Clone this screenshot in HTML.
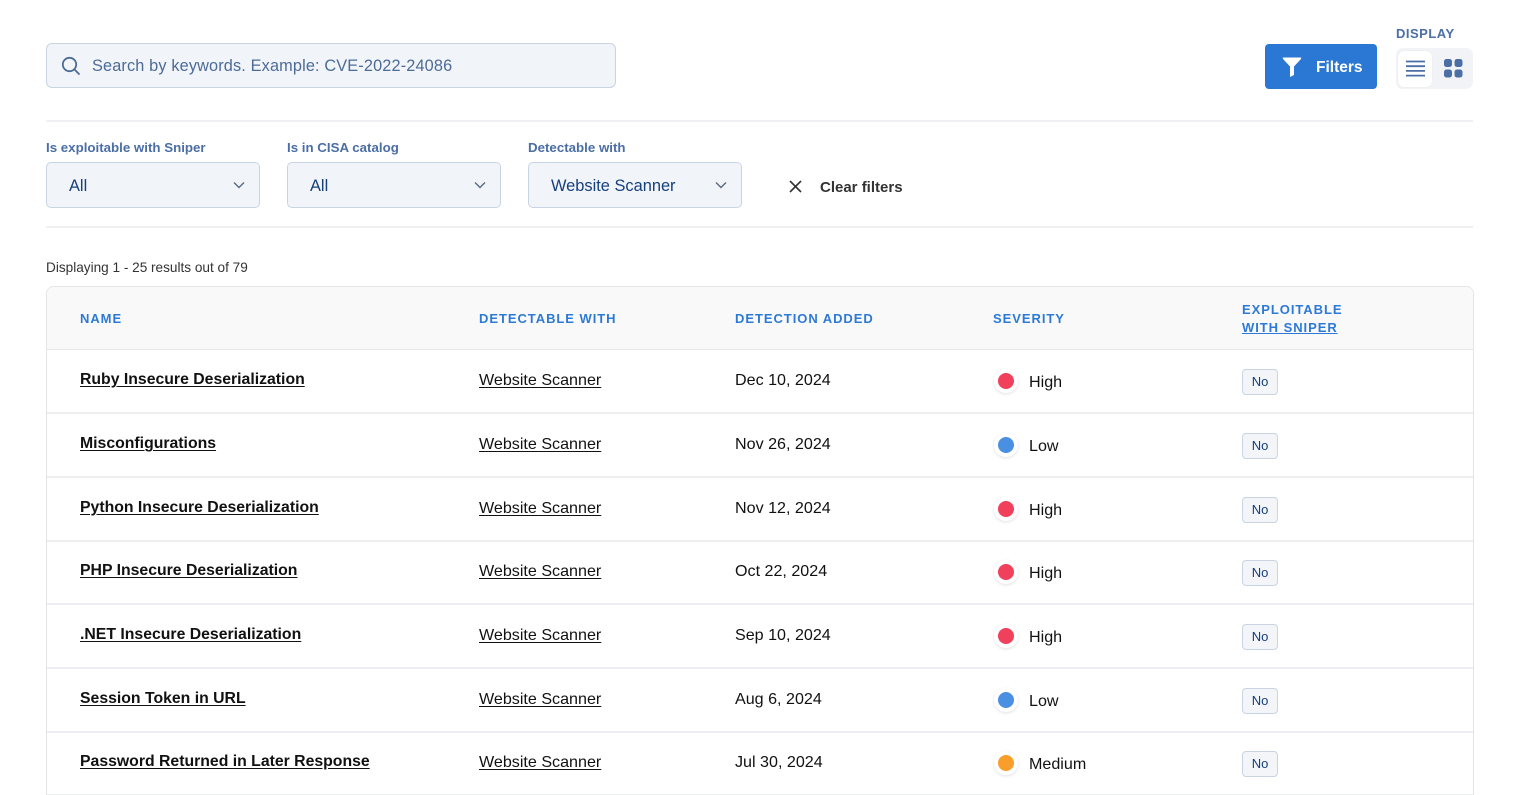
<!DOCTYPE html>
<html><head><meta charset="utf-8">
<style>
*{box-sizing:border-box;margin:0;padding:0}
html{width:1536px;height:795px;overflow:hidden}
body{width:1536px;height:795px;overflow:hidden;background:#fff;font-family:"Liberation Sans",Arial,sans-serif;position:relative}
.abs{position:absolute}
.search{left:46px;top:43px;width:570px;height:45px;background:#f1f4f8;border:1px solid #c9d4e3;border-radius:6px}
.search span{position:absolute;left:45px;top:13px;font-size:16.3px;color:#4d6b97;letter-spacing:0.15px}
.hr{left:46px;width:1427px;height:2px;background:#eef0f3}
.lbl{font-size:13.3px;color:#4a6ea5;font-weight:bold;top:140px}
.sel{top:162px;width:214px;height:46px;background:#f1f4f8;border:1px solid #c9d4e3;border-radius:5px}
.sel span{position:absolute;left:22px;top:14px;font-size:16.4px;color:#163f7c}
.sel svg{position:absolute;right:14px;top:18px}
.btn{left:1265px;top:44px;width:112px;height:45px;background:#2b77d4;border-radius:4px}
.btn span{position:absolute;left:51px;top:14px;color:#fff;font-size:15.5px;font-weight:bold}
.disp{left:1396px;top:26px;font-size:13px;color:#4a6ea5;font-weight:bold;letter-spacing:0.5px}
.tog{left:1396px;top:48px;width:77px;height:41px;background:#f1f3f6;border-radius:7px}
.tog .on{position:absolute;left:2px;top:3px;width:34px;height:36px;background:#fff;border-radius:6px;box-shadow:0 0 1px rgba(0,0,0,0.1)}
.count{left:46px;top:259px;font-size:13.6px;color:#333}
.table{left:46px;top:286px;width:1428px;height:512px;border:1px solid #e3e5e8;border-radius:8px 8px 0 0;overflow:hidden}
.thead{position:absolute;left:0;top:0;width:100%;height:63px;background:#f9f9f9;border-bottom:1px solid #e3e5e8}
.th{position:absolute;font-size:13px;font-weight:bold;color:#2d7ad6;letter-spacing:0.95px}
.row{position:absolute;left:0;width:100%;height:64px;border-bottom:2px solid #eceef1}
.name{position:absolute;left:33px;top:21px;font-size:15.8px;font-weight:bold;color:#111;text-decoration:underline;text-underline-offset:2px}
.det{position:absolute;left:432px;top:21px;font-size:16.1px;color:#111;text-decoration:underline;text-underline-offset:2px}
.date{position:absolute;left:688px;top:21px;font-size:16.1px;color:#111}
.dotw{position:absolute;left:947px;top:19px;width:24px;height:24px;border-radius:50%;background:#fff;box-shadow:0 1px 3px rgba(0,0,0,0.12)}
.dotw i{position:absolute;left:4px;top:4px;width:16px;height:16px;border-radius:50%}
.sev{position:absolute;left:982px;top:23px;font-size:16.1px;color:#111}
.no{position:absolute;left:1195px;top:19px;width:36px;height:26px;background:#f3f5f8;border:1px solid #c9d4e3;border-radius:4px;font-size:13px;color:#163f7c;text-align:center;line-height:24px}
</style></head><body>

<div class="abs search">
<svg class="abs" style="left:14px;top:12px" width="20" height="20" viewBox="0 0 20 20"><circle cx="8.5" cy="8.5" r="6.7" fill="none" stroke="#4d6b97" stroke-width="1.8"/><line x1="13.4" y1="13.4" x2="18" y2="18" stroke="#4d6b97" stroke-width="1.8" stroke-linecap="round"/></svg>
<span>Search by keywords. Example: CVE-2022-24086</span>
</div>

<div class="abs btn">
<svg class="abs" style="left:17px;top:12px" width="20" height="22" viewBox="0 0 20 22"><path d="M1 1.5 H19 Q19.5 1.5 19 3 L12 10.5 V19 L8 21 V10.5 L1 3 Q0.5 1.5 1 1.5Z" fill="#fff"/></svg>
<span style="top:15px">Filters</span>
</div>

<div class="abs disp">DISPLAY</div>
<div class="abs tog">
<div class="on"></div>
<svg class="abs" style="left:10px;top:12px" width="19" height="17" viewBox="0 0 19 17"><g stroke="#4a6ea5" stroke-width="1.8"><line x1="0" y1="1.5" x2="19" y2="1.5"/><line x1="0" y1="6.2" x2="19" y2="6.2"/><line x1="0" y1="10.9" x2="19" y2="10.9"/><line x1="0" y1="15.6" x2="19" y2="15.6"/></g></svg>
<svg class="abs" style="left:48px;top:11px" width="19" height="19" viewBox="0 0 19 19"><g fill="#4a6ea5"><rect x="0" y="0" width="8" height="8" rx="2.5"/><rect x="10.5" y="0" width="8" height="8" rx="2.5"/><rect x="0" y="10.5" width="8" height="8" rx="2.5"/><rect x="10.5" y="10.5" width="8" height="8" rx="2.5"/></g></svg>
</div>

<div class="abs hr" style="top:120px"></div>

<div class="abs lbl" style="left:46px">Is exploitable with Sniper</div>
<div class="abs lbl" style="left:287px">Is in CISA catalog</div>
<div class="abs lbl" style="left:528px">Detectable with</div>

<div class="abs sel" style="left:46px"><span>All</span><svg width="12" height="8" viewBox="0 0 12 8"><path d="M1 1.5 L6 6.5 L11 1.5" fill="none" stroke="#5a6b80" stroke-width="1.4"/></svg></div>
<div class="abs sel" style="left:287px"><span>All</span><svg width="12" height="8" viewBox="0 0 12 8"><path d="M1 1.5 L6 6.5 L11 1.5" fill="none" stroke="#5a6b80" stroke-width="1.4"/></svg></div>
<div class="abs sel" style="left:528px"><span>Website Scanner</span><svg width="12" height="8" viewBox="0 0 12 8"><path d="M1 1.5 L6 6.5 L11 1.5" fill="none" stroke="#5a6b80" stroke-width="1.4"/></svg></div>

<svg class="abs" style="left:789px;top:180px" width="13" height="13" viewBox="0 0 13 13"><g stroke="#333" stroke-width="1.6"><line x1="1" y1="1" x2="12" y2="12"/><line x1="12" y1="1" x2="1" y2="12"/></g></svg>
<div class="abs" style="left:820px;top:179px;font-size:15px;font-weight:bold;color:#333">Clear filters</div>

<div class="abs hr" style="top:226px"></div>

<div class="abs count" style="top:260px">Displaying 1 - 25 results out of 79</div>

<div class="abs table">
<div class="thead">
<div class="th" style="left:33px;top:24px">NAME</div>
<div class="th" style="left:432px;top:24px">DETECTABLE WITH</div>
<div class="th" style="left:688px;top:24px">DETECTION ADDED</div>
<div class="th" style="left:946px;top:24px">SEVERITY</div>
<div class="th" style="left:1195px;top:14px;line-height:18px">EXPLOITABLE<br><span style="text-decoration:underline">WITH SNIPER</span></div>
</div>

<div class="row" style="top:63px"><div class="name">Ruby Insecure Deserialization</div><div class="det">Website Scanner</div><div class="date">Dec 10, 2024</div><div class="dotw"><i style="background:#f1405b"></i></div><div class="sev">High</div><div class="no">No</div></div>
<div class="row" style="top:127px"><div class="name">Misconfigurations</div><div class="det">Website Scanner</div><div class="date">Nov 26, 2024</div><div class="dotw"><i style="background:#4a90e2"></i></div><div class="sev">Low</div><div class="no">No</div></div>
<div class="row" style="top:191px"><div class="name">Python Insecure Deserialization</div><div class="det">Website Scanner</div><div class="date">Nov 12, 2024</div><div class="dotw"><i style="background:#f1405b"></i></div><div class="sev">High</div><div class="no">No</div></div>
<div class="row" style="top:254px"><div class="name">PHP Insecure Deserialization</div><div class="det">Website Scanner</div><div class="date">Oct 22, 2024</div><div class="dotw"><i style="background:#f1405b"></i></div><div class="sev">High</div><div class="no">No</div></div>
<div class="row" style="top:318px"><div class="name">.NET Insecure Deserialization</div><div class="det">Website Scanner</div><div class="date">Sep 10, 2024</div><div class="dotw"><i style="background:#f1405b"></i></div><div class="sev">High</div><div class="no">No</div></div>
<div class="row" style="top:382px"><div class="name">Session Token in URL</div><div class="det">Website Scanner</div><div class="date">Aug 6, 2024</div><div class="dotw"><i style="background:#4a90e2"></i></div><div class="sev">Low</div><div class="no">No</div></div>
<div class="row" style="top:445px"><div class="name">Password Returned in Later Response</div><div class="det">Website Scanner</div><div class="date">Jul 30, 2024</div><div class="dotw"><i style="background:#f99e2b"></i></div><div class="sev">Medium</div><div class="no">No</div></div>
</div>

</body></html>
